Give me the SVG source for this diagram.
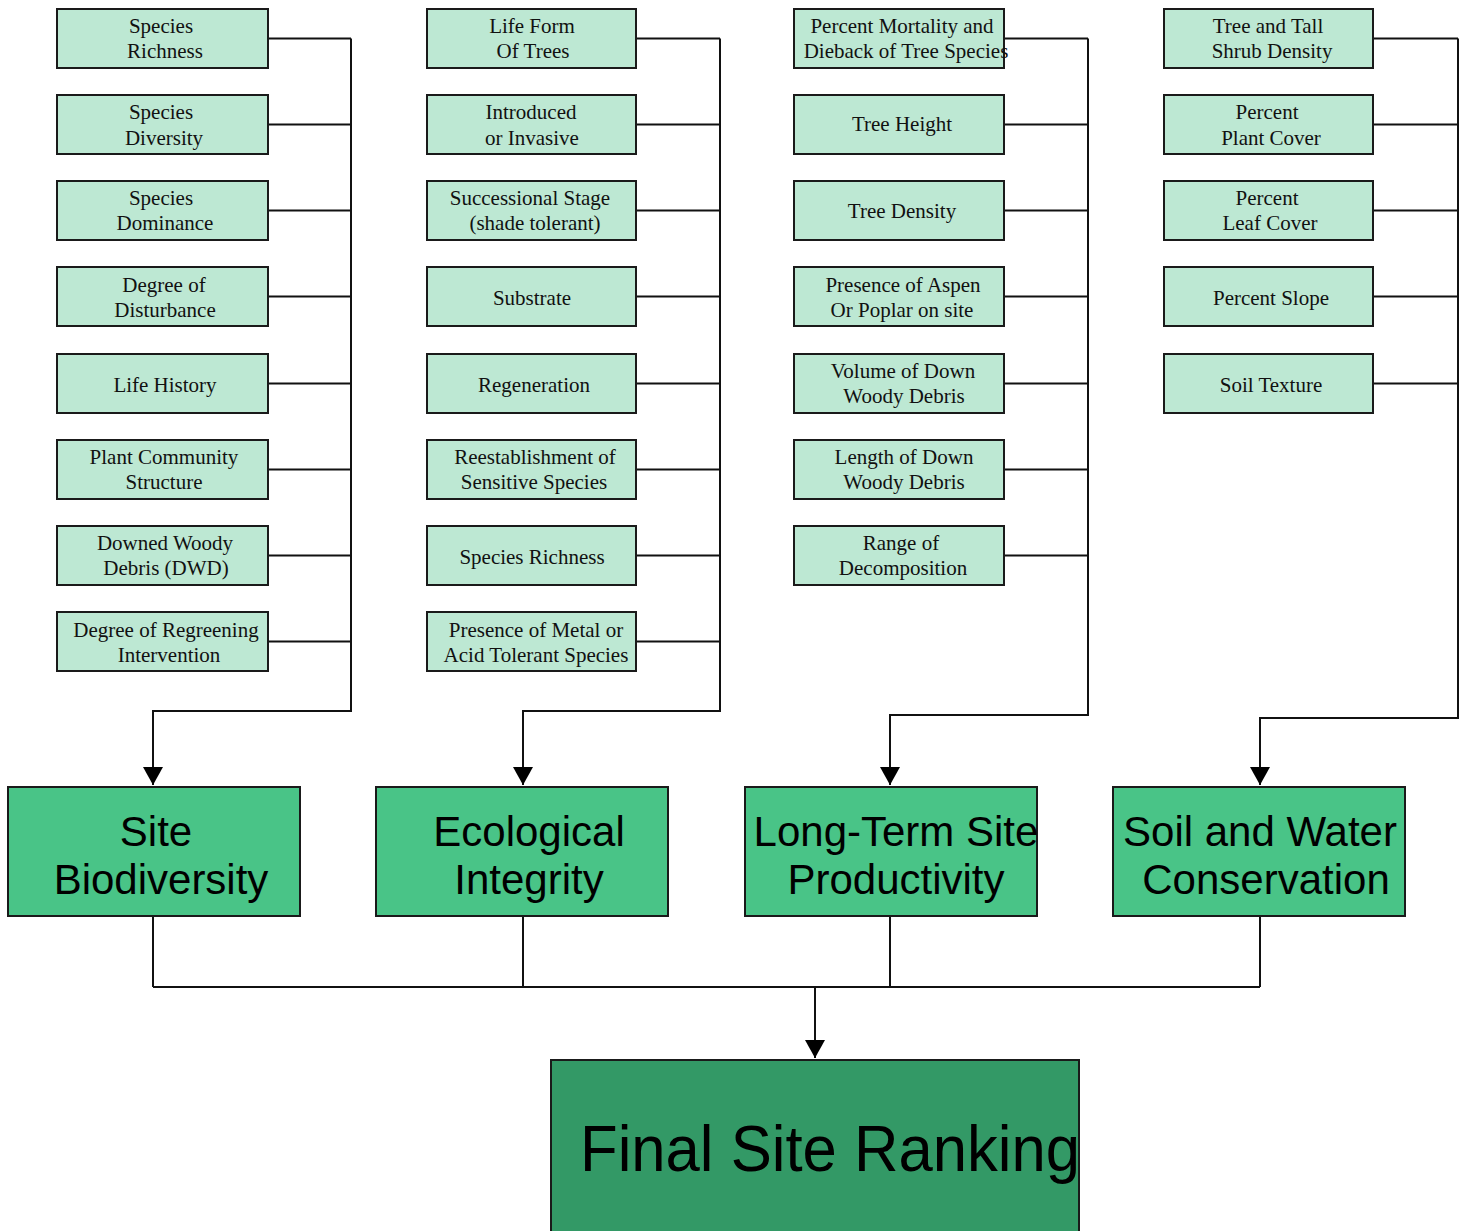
<svg xmlns="http://www.w3.org/2000/svg" width="1465" height="1231" viewBox="0 0 1465 1231">
<style>
.s{fill:#bde8d3;stroke:#1a1a1a;stroke-width:2}
.b{fill:#49c487;stroke:#1a1a1a;stroke-width:2}
.f{fill:#339966;stroke:#1a1a1a;stroke-width:2}
.t{font-family:"Liberation Serif","Times New Roman",serif;font-size:21px;fill:#111;text-anchor:middle}
.bt{font-family:"Liberation Sans",Arial,sans-serif;font-size:42px;fill:#000;text-anchor:middle}
.ft{font-family:"Liberation Sans",Arial,sans-serif;font-size:64px;fill:#000}
.c{fill:none;stroke:#111;stroke-width:2}
</style>
<defs>
<marker id="ah" markerUnits="userSpaceOnUse" markerWidth="20" markerHeight="20" viewBox="0 0 20 20" refX="18" refY="10" orient="auto">
<path d="M0,0 L18,10 L0,20 Z" fill="#000"/>
</marker>
</defs>
<rect x="0" y="0" width="1465" height="1231" fill="#fff"/>

<g id="connectors">
<!-- column 1 -->
<path class="c" d="M268,38.5H351M268,124.5H351M268,210.5H351M268,296.5H351M268,383.5H351M268,469.5H351M268,555.5H351M268,641.5H351"/>
<path class="c" d="M351,38.5V711H153V785" marker-end="url(#ah)"/>
<!-- column 2 -->
<path class="c" d="M636,38.5H720M636,124.5H720M636,210.5H720M636,296.5H720M636,383.5H720M636,469.5H720M636,555.5H720M636,641.5H720"/>
<path class="c" d="M720,38.5V711H523V785" marker-end="url(#ah)"/>
<!-- column 3 -->
<path class="c" d="M1004,38.5H1088M1004,124.5H1088M1004,210.5H1088M1004,296.5H1088M1004,383.5H1088M1004,469.5H1088M1004,555.5H1088"/>
<path class="c" d="M1088,38.5V715H890V785" marker-end="url(#ah)"/>
<!-- column 4 -->
<path class="c" d="M1373,38.5H1458M1373,124.5H1458M1373,210.5H1458M1373,296.5H1458M1373,383.5H1458"/>
<path class="c" d="M1458,38.5V718H1260V785" marker-end="url(#ah)"/>
<!-- bottom -->
<path class="c" d="M153,916V987M523,916V987M890,916V987M1260,916V987M153,987H1260"/>
<path class="c" d="M815,987V1058" marker-end="url(#ah)"/>
</g>

<!-- Column 1 -->
<g id="c1n1"><rect class="s" x="57" y="9" width="211" height="59"/><text class="t"><tspan x="161" y="33">Species</tspan><tspan x="165" y="58">Richness</tspan></text></g>
<g id="c1n2"><rect class="s" x="57" y="95" width="211" height="59"/><text class="t"><tspan x="161" y="119">Species</tspan><tspan x="164" y="145">Diversity</tspan></text></g>
<g id="c1n3"><rect class="s" x="57" y="181" width="211" height="59"/><text class="t"><tspan x="161" y="205">Species</tspan><tspan x="165" y="230">Dominance</tspan></text></g>
<g id="c1n4"><rect class="s" x="57" y="267" width="211" height="59"/><text class="t"><tspan x="164" y="292">Degree of</tspan><tspan x="165" y="317">Disturbance</tspan></text></g>
<g id="c1n5"><rect class="s" x="57" y="354" width="211" height="59"/><text class="t" x="165" y="392">Life History</text></g>
<g id="c1n6"><rect class="s" x="57" y="440" width="211" height="59"/><text class="t"><tspan x="164" y="464">Plant Community</tspan><tspan x="164" y="489">Structure</tspan></text></g>
<g id="c1n7"><rect class="s" x="57" y="526" width="211" height="59"/><text class="t"><tspan x="165" y="550">Downed Woody</tspan><tspan x="166" y="575">Debris (DWD)</tspan></text></g>
<g id="c1n8"><rect class="s" x="57" y="612" width="211" height="59"/><text class="t"><tspan x="166" y="637">Degree of Regreening</tspan><tspan x="169" y="662">Intervention</tspan></text></g>

<!-- Column 2 -->
<g id="c2n1"><rect class="s" x="427" y="9" width="209" height="59"/><text class="t"><tspan x="532" y="33">Life Form</tspan><tspan x="533" y="58">Of Trees</tspan></text></g>
<g id="c2n2"><rect class="s" x="427" y="95" width="209" height="59"/><text class="t"><tspan x="531" y="119">Introduced</tspan><tspan x="532" y="145">or Invasive</tspan></text></g>
<g id="c2n3"><rect class="s" x="427" y="181" width="209" height="59"/><text class="t"><tspan x="530" y="205">Successional Stage</tspan><tspan x="535" y="230">(shade tolerant)</tspan></text></g>
<g id="c2n4"><rect class="s" x="427" y="267" width="209" height="59"/><text class="t" x="532" y="305">Substrate</text></g>
<g id="c2n5"><rect class="s" x="427" y="354" width="209" height="59"/><text class="t" x="534" y="392">Regeneration</text></g>
<g id="c2n6"><rect class="s" x="427" y="440" width="209" height="59"/><text class="t"><tspan x="535" y="464">Reestablishment of</tspan><tspan x="534" y="489">Sensitive Species</tspan></text></g>
<g id="c2n7"><rect class="s" x="427" y="526" width="209" height="59"/><text class="t" x="532" y="564">Species Richness</text></g>
<g id="c2n8"><rect class="s" x="427" y="612" width="209" height="59"/><text class="t"><tspan x="536" y="637">Presence of Metal or</tspan><tspan x="536" y="662">Acid Tolerant Species</tspan></text></g>

<!-- Column 3 -->
<g id="c3n1"><rect class="s" x="794" y="9" width="210" height="59"/><text class="t"><tspan x="902" y="33">Percent Mortality and</tspan><tspan x="906" y="58">Dieback of Tree Species</tspan></text></g>
<g id="c3n2"><rect class="s" x="794" y="95" width="210" height="59"/><text class="t" x="902" y="131">Tree Height</text></g>
<g id="c3n3"><rect class="s" x="794" y="181" width="210" height="59"/><text class="t" x="902" y="218">Tree Density</text></g>
<g id="c3n4"><rect class="s" x="794" y="267" width="210" height="59"/><text class="t"><tspan x="903" y="292">Presence of Aspen</tspan><tspan x="902" y="317">Or Poplar on site</tspan></text></g>
<g id="c3n5"><rect class="s" x="794" y="354" width="210" height="59"/><text class="t"><tspan x="903" y="378">Volume of Down</tspan><tspan x="904" y="403">Woody Debris</tspan></text></g>
<g id="c3n6"><rect class="s" x="794" y="440" width="210" height="59"/><text class="t"><tspan x="904" y="464">Length of Down</tspan><tspan x="904" y="489">Woody Debris</tspan></text></g>
<g id="c3n7"><rect class="s" x="794" y="526" width="210" height="59"/><text class="t"><tspan x="901" y="550">Range of</tspan><tspan x="903" y="575">Decomposition</tspan></text></g>

<!-- Column 4 -->
<g id="c4n1"><rect class="s" x="1164" y="9" width="209" height="59"/><text class="t"><tspan x="1268" y="33">Tree and Tall</tspan><tspan x="1272" y="58">Shrub Density</tspan></text></g>
<g id="c4n2"><rect class="s" x="1164" y="95" width="209" height="59"/><text class="t"><tspan x="1267" y="119">Percent</tspan><tspan x="1271" y="145">Plant Cover</tspan></text></g>
<g id="c4n3"><rect class="s" x="1164" y="181" width="209" height="59"/><text class="t"><tspan x="1267" y="205">Percent</tspan><tspan x="1270" y="230">Leaf Cover</tspan></text></g>
<g id="c4n4"><rect class="s" x="1164" y="267" width="209" height="59"/><text class="t" x="1271" y="305">Percent Slope</text></g>
<g id="c4n5"><rect class="s" x="1164" y="354" width="209" height="59"/><text class="t" x="1271" y="392">Soil Texture</text></g>

<!-- Big boxes -->
<g id="biodiversity"><rect class="b" x="8" y="787" width="292" height="129"/><text class="bt"><tspan x="156" y="846">Site</tspan><tspan x="161" y="894">Biodiversity</tspan></text></g>
<g id="integrity"><rect class="b" x="376" y="787" width="292" height="129"/><text class="bt"><tspan x="529" y="846">Ecological</tspan><tspan x="529" y="894">Integrity</tspan></text></g>
<g id="productivity"><rect class="b" x="745" y="787" width="292" height="129"/><text class="bt"><tspan x="896" y="846">Long-Term Site</tspan><tspan x="896" y="894">Productivity</tspan></text></g>
<g id="conservation"><rect class="b" x="1113" y="787" width="292" height="129"/><text class="bt"><tspan x="1260" y="846">Soil and Water</tspan><tspan x="1266" y="894">Conservation</tspan></text></g>

<!-- Final -->
<g id="final"><rect class="f" x="551" y="1060" width="528" height="190"/><text class="ft" x="580" y="1171" textLength="500" lengthAdjust="spacingAndGlyphs">Final Site Ranking</text></g>
</svg>
